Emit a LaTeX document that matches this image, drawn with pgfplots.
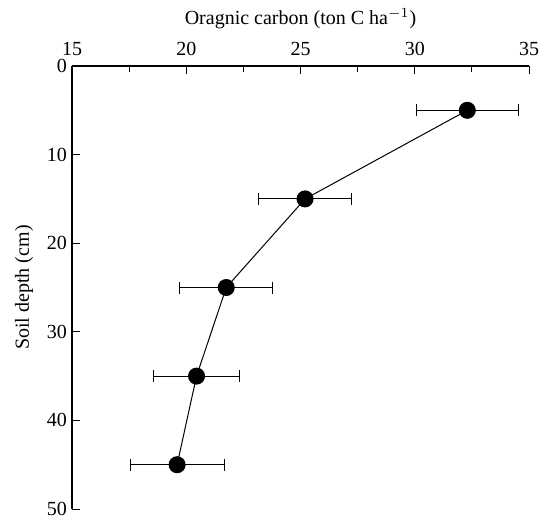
\documentclass[border=0pt]{standalone}
\usepackage{pgfplots}
\pgfplotsset{compat=1.18}
\usepackage{fontspec}
\setmainfont{Liberation Serif}
\begin{document}
\begin{tikzpicture}
\begin{axis}[
  scale only axis, width=228.5pt, height=221.5pt,
  xmin=15, xmax=35, ymin=0, ymax=50, y dir=reverse,
  axis x line*=top, axis y line*=left,
  axis line style={line width=0.6pt},
  xtick={15,20,...,35}, minor x tick num=1,
  ytick={0,10,...,50},
  xtick align=inside, ytick align=inside,
  major tick length=4pt, minor tick length=3pt,
  tick style={black, line width=0.5pt},
  xlabel={Oragnic carbon (ton C ha$^{-1}$)},
  ylabel={Soil depth (cm)},
  xticklabel shift=1.5pt,
  yticklabel shift=-1pt,
  ylabel shift=0pt,
  /pgf/number format/assume math mode=true,
  tick label style={font=\normalsize},
  label style={font=\normalsize},
]
\addplot[black, line width=0.5pt, mark=*, mark size=4pt, mark options={fill=black},
  error bars/.cd, x dir=both, x explicit,
  error mark=|,
  error bar style={line width=0.5pt, black},
  error mark options={mark size=3pt, line width=0.5pt, black}]
coordinates {
  (32.3,5) +- (2.23,0)
  (25.2,15) +- (2.05,0)
  (21.75,25) +- (2.04,0)
  (20.45,35) +- (1.88,0)
  (19.6,45) +- (2.06,0)
};
\end{axis}
\pgfresetboundingbox
\path[use as bounding box] ([xshift=-36pt,yshift=33pt]current axis.north west) rectangle ([xshift=6.5pt,yshift=-5pt]current axis.south east);
\end{tikzpicture}
\end{document}
